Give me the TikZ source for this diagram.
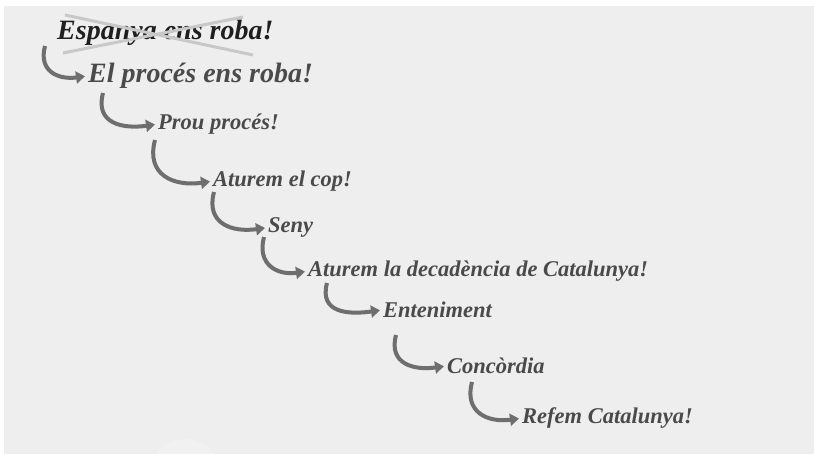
\documentclass[tikz,border=0pt]{standalone}
\usepackage{fontspec}
\setmainfont{Liberation Serif}
\usetikzlibrary{arrows.meta}
\definecolor{bggray}{HTML}{EEEEEE}
\definecolor{txtgray}{HTML}{4A4A4A}
\definecolor{arrgray}{HTML}{6E6E6E}
\definecolor{crossgray}{HTML}{C8C8C8}
\begin{document}
\begin{tikzpicture}[x=1pt,y=1pt,
    big/.style={font=\fontsize{28}{30}\selectfont\bfseries\itshape,text=txtgray,inner sep=0pt,anchor=base west},
    small/.style={big,font=\fontsize{22.5}{25}\selectfont\bfseries\itshape},
    arr/.style={-{Triangle[length=9pt,width=12pt]},line width=4pt,draw=arrgray,out=-105,in=188,looseness=1.35}]
    \useasboundingbox (0,0) rectangle (814,454);
    \fill[bggray] (4,0) rectangle (814,448);
    \begin{scope}
      \clip (4,0) rectangle (814,448);
      \fill[white,opacity=0.2] (185,-20) circle (35);
    \end{scope}
    \node[big,text={black!88}] (T0) at (57,414) {Espanya ens roba!};
    \node[big] (T1) at (88,371) {El procés ens roba!};
    \node[small] (T2) at (158,324) {Prou procés!};
    \node[small] (T3) at (213,267) {Aturem el cop!};
    \node[small] (T4) at (268,221) {Seny};
    \node[small] (T5) at (308,177) {Aturem la decadència de Catalunya!};
    \node[small] (T6) at (383,136) {Enteniment};
    \node[small] (T7) at (447,80) {Concòrdia};
    \node[small] (T8) at (522,30) {Refem Catalunya!};
    \coordinate (s1) at (45,408);
    \coordinate (s2) at (103,361);
    \coordinate (s3) at (155,314);
    \coordinate (s4) at (214,262);
    \coordinate (s5) at (264,217);
    \coordinate (s6) at (327,171);
    \coordinate (s7) at (396,119);
    \coordinate (s8) at (472,72);
    \foreach \i in {1,...,8}
      \path (s\i) edge [arr] ([xshift=-3pt]T\i.west);
    \draw[crossgray,line width=3pt] (65,439) -- (253,399);
    \draw[crossgray,line width=3pt] (63,401) -- (243,437);
  \end{tikzpicture}
\end{document}
